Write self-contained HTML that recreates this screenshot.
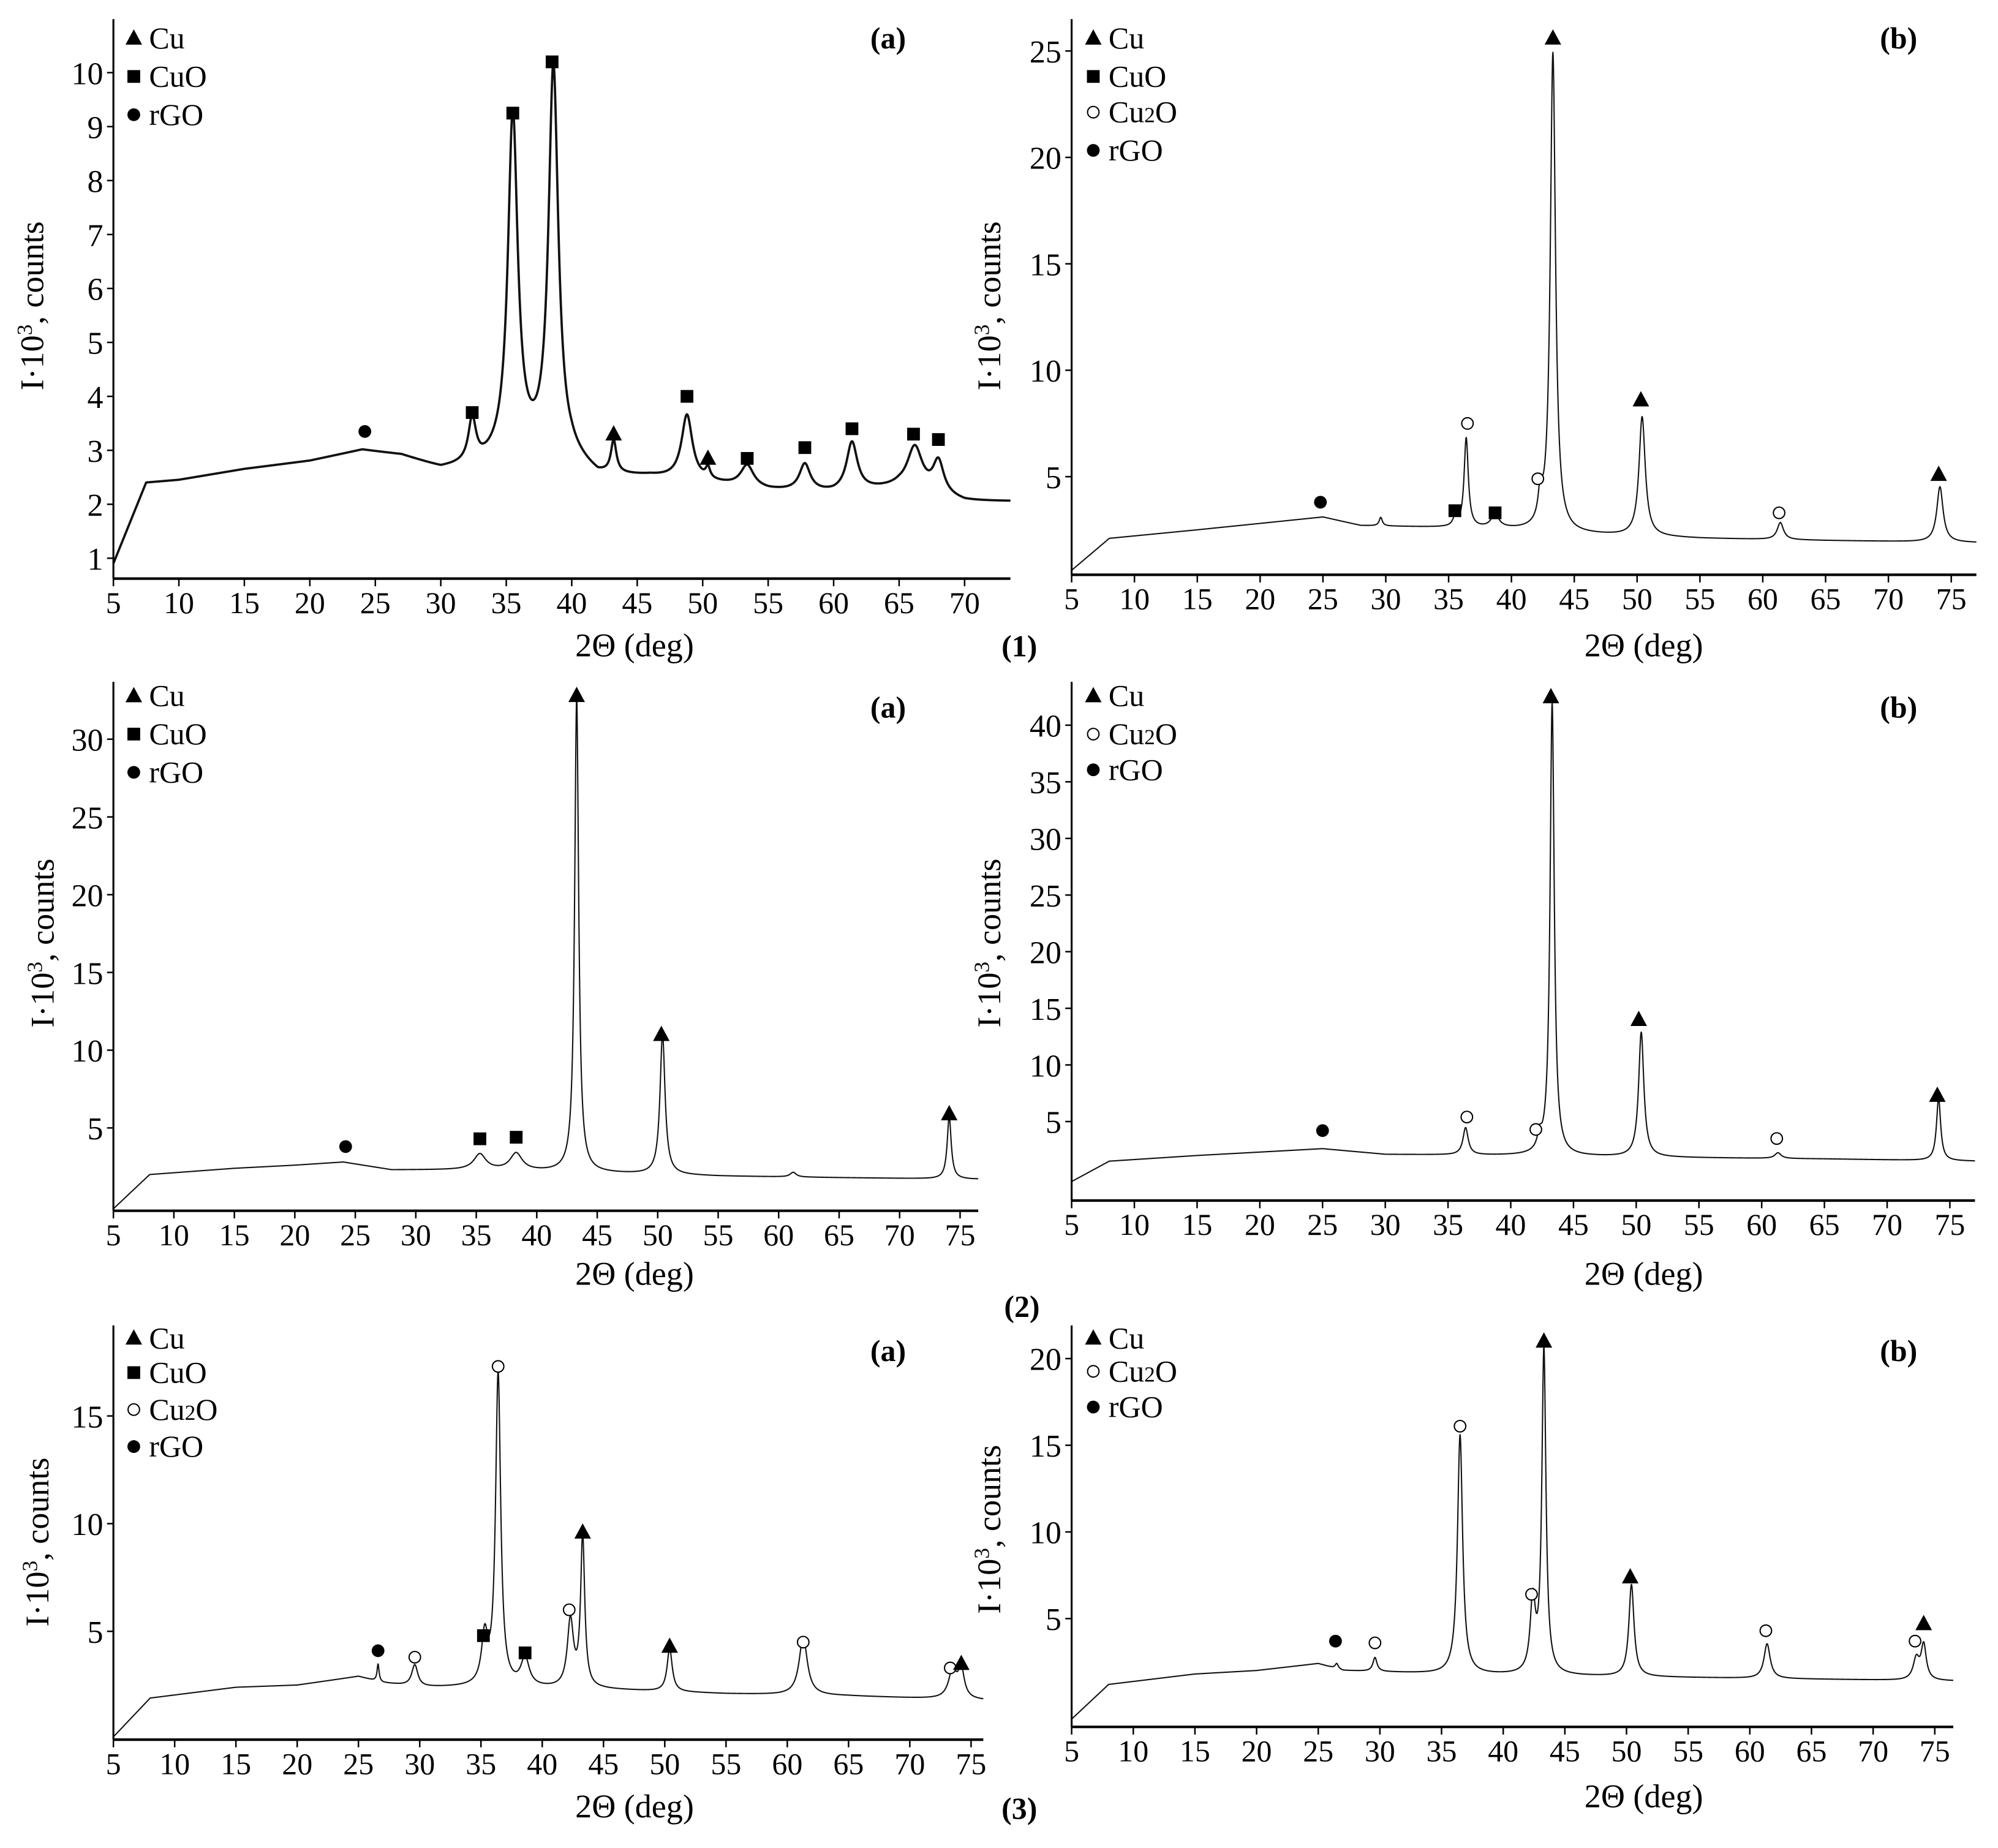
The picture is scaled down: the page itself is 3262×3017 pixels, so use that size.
<!DOCTYPE html>
<html><head><meta charset="utf-8"><style>
html,body{margin:0;padding:0;background:#fff;}
svg{display:block;font-family:"Liberation Serif",serif;}
</style></head><body>
<svg id="fig" xmlns="http://www.w3.org/2000/svg" width="3262" height="3017" viewBox="0 0 1568 1450" preserveAspectRatio="none"></svg>
<script>
// ---------- data arrays ----------
const xTicksA = [5,10,15,20,25,30,35,40,45,50,55,60,65,70];
const xTicksB = [5,10,15,20,25,30,35,40,45,50,55,60,65,70,75];
const p1aYTicks = [1,2,3,4,5,6,7,8,9,10];
const p1bYTicks = [5,10,15,20,25];
const p2aYTicks = [5,10,15,20,25,30];
const p2bYTicks = [5,10,15,20,25,30,35,40];
const p3aYTicks = [5,10,15];
const p3bYTicks = [5,10,15,20];

const p1aBase = [[5,0.9],[7.5,2.4],[10,2.45],[15,2.65],[20,2.8],[24,3.0],[27,2.9],[30,2.65],[33,2.7],[36,2.9],[40,2.8],[42,2.5],[46,2.5],[50,2.4],[55,2.25],[60,2.2],[65,2.3],[70,2.05],[73.5,2.05]];
const p1aPeaks = [[32.4,0.8,0.35],[35.5,6.3,0.45],[38.6,7.2,0.45],[43.2,0.6,0.25],[48.8,1.2,0.5],[50.4,0.2,0.2],[53.4,0.4,0.6],[57.8,0.5,0.5],[61.4,0.9,0.5],[66.2,0.8,0.7],[68,0.6,0.5]];
const p1aMarks = [["c",24.2,3.35],["s",32.4,3.7],["s",35.5,9.25],["s",38.5,10.2],["t",43.2,3.3],["s",48.8,4.0],["t",50.4,2.85],["s",53.4,2.85],["s",57.8,3.05],["s",61.4,3.4],["s",66.1,3.3],["s",68,3.2]];

const p1bBase = [[5,0.6],[8,2.1],[15,2.5],[20,2.8],[25,3.1],[28,2.7],[35,2.6],[40,2.5],[45,2.3],[55,2.1],[65,2.0],[77,1.9]];
const p1bPeaks = [[29.6,0.4,0.15],[35.5,0.4,0.2],[36.4,4.2,0.2],[38.7,0.6,0.4],[42.3,1.3,0.2],[43.3,22.5,0.25],[50.4,5.6,0.3],[61.4,0.8,0.3],[74.1,2.6,0.3]];
const p1bMarks = [["c",24.8,3.8],["s",35.5,3.4],["s",38.7,3.3],["o",36.5,7.5],["o",42.1,4.9],["t",43.3,25.6],["t",50.3,8.6],["o",61.3,3.3],["t",74,5.1]];

const p2aBase = [[5,-0.2],[8,2.0],[15,2.4],[20,2.6],[24,2.8],[28,2.3],[35,2.3],[45,2.1],[55,1.9],[65,1.8],[76,1.7]];
const p2aPeaks = [[35.3,1.0,0.6],[38.3,1.1,0.6],[43.3,30.5,0.2],[50.4,9,0.25],[61.2,0.3,0.3],[74.1,4,0.2]];
const p2aMarks = [["c",24.2,3.8],["s",35.3,4.3],["s",38.3,4.4],["t",43.3,32.8],["t",50.3,11],["t",74.1,5.9]];

const p2bBase = [[5,-0.3],[8,1.5],[15,2.0],[25,2.6],[30,2.1],[40,2.0],[55,1.8],[65,1.7],[77,1.5]];
const p2bPeaks = [[36.4,2.4,0.25],[42.3,1.2,0.2],[43.3,40,0.2],[50.4,11,0.25],[61.3,0.5,0.3],[74.1,5.5,0.2]];
const p2bMarks = [["c",25,4.2],["o",36.5,5.4],["o",42,4.3],["t",43.2,42.5],["t",50.2,14],["o",61.2,3.5],["t",74,7.3]];

const p3aBase = [[5,0.1],[8,1.9],[15,2.4],[20,2.5],[25,2.9],[27,2.6],[30,2.4],[35,2.4],[45,2.3],[55,2.1],[65,2.0],[76,1.8]];
const p3aPeaks = [[26.6,0.8,0.1],[29.6,1.0,0.3],[35.3,2.2,0.3],[36.4,14.5,0.25],[38.6,1.3,0.4],[42.3,3.1,0.3],[43.3,7.0,0.2],[50.4,2.0,0.25],[61.3,2.7,0.4],[73.5,1.3,0.4],[74.2,1.3,0.3]];
const p3aMarks = [["c",26.6,4.1],["o",29.6,3.8],["s",35.2,4.8],["o",36.4,17.3],["s",38.6,4.0],["o",42.2,6.0],["t",43.3,9.6],["t",50.4,4.3],["o",61.3,4.5],["o",73.3,3.3],["t",74.2,3.5]];

const p3bBase = [[5,-0.8],[8,1.2],[15,1.8],[20,2.0],[25,2.4],[27,2.0],[35,1.8],[45,1.7],[55,1.6],[76.5,1.4]];
const p3bPeaks = [[26.5,0.3,0.15],[29.6,0.8,0.2],[36.5,13.8,0.25],[42.4,4.1,0.25],[43.3,18.7,0.2],[50.4,5.3,0.25],[61.4,2.0,0.3],[73.5,1.2,0.3],[74.1,2.0,0.25]];
const p3bMarks = [["c",26.4,3.7],["o",29.6,3.6],["o",36.5,16.1],["o",42.3,6.4],["t",43.3,21],["t",50.3,7.4],["o",61.3,4.3],["o",73.4,3.7],["t",74.1,4.7]];

// ---------- layout ----------
const panels = [
 {id:"1a",px5:89,px70:757,xEnd:73.5,yBot:454,yTop:15,v1:1,py1:438,v2:10,py2:57,yt:p1aYTicks,xt:xTicksA,base:p1aBase,peaks:p1aPeaks,marks:p1aMarks,lab:"(a)",labX:697,labY:38,legX:105,legY:[30,60,90],leg:["t:Cu","s:CuO","c:rGO"],ylX:34,ylY:240,xlY:515,sw:1.8},
 {id:"1b",px5:841,px70:1482,xEnd:77,yBot:451,yTop:15,v1:5,py1:374,v2:25,py2:40,yt:p1bYTicks,xt:xTicksB,base:p1bBase,peaks:p1bPeaks,marks:p1bMarks,lab:"(b)",labX:1490,labY:38,legX:858,legY:[30,60,88,118],leg:["t:Cu","s:CuO","o:Cu2O","c:rGO"],ylX:785,ylY:240,xlY:515,sw:1},
 {id:"2a",px5:89,px70:706,xEnd:76.5,yBot:950,yTop:535,v1:5,py1:885,v2:30,py2:580,yt:p2aYTicks,xt:xTicksB,base:p2aBase,peaks:p2aPeaks,marks:p2aMarks,lab:"(a)",labX:697,labY:563,legX:105,legY:[546,576,606],leg:["t:Cu","s:CuO","c:rGO"],ylX:42,ylY:740,xlY:1008,sw:1},
 {id:"2b",px5:841,px70:1481,xEnd:77,yBot:942,yTop:535,v1:5,py1:880,v2:40,py2:569,yt:p2bYTicks,xt:xTicksB,base:p2bBase,peaks:p2bPeaks,marks:p2bMarks,lab:"(b)",labX:1490,labY:563,legX:858,legY:[546,576,604],leg:["t:Cu","o:Cu2O","c:rGO"],ylX:785,ylY:740,xlY:1008,sw:1},
 {id:"3a",px5:89,px70:714,xEnd:76,yBot:1365,yTop:1040,v1:5,py1:1280,v2:15,py2:1111,yt:p3aYTicks,xt:xTicksB,base:p3aBase,peaks:p3aPeaks,marks:p3aMarks,lab:"(a)",labX:697,labY:1068,legX:105,legY:[1050,1077,1106,1135],leg:["t:Cu","s:CuO","o:Cu2O","c:rGO"],ylX:38,ylY:1210,xlY:1426,sw:1},
 {id:"3b",px5:841,px70:1470,xEnd:76.5,yBot:1355,yTop:1040,v1:5,py1:1270,v2:20,py2:1066,yt:p3bYTicks,xt:xTicksB,base:p3bBase,peaks:p3bPeaks,marks:p3bMarks,lab:"(b)",labX:1490,labY:1068,legX:858,legY:[1050,1076,1104],leg:["t:Cu","o:Cu2O","c:rGO"],ylX:785,ylY:1200,xlY:1418,sw:1}
];
const NS="http://www.w3.org/2000/svg";
const svg=document.getElementById("fig");
function mk(tag,attrs,parent){const e=document.createElementNS(NS,tag);for(const k in attrs)e.setAttribute(k,attrs[k]);(parent||svg).appendChild(e);return e;}
function marker(type,cx,cy,g){
 let e;
 if(type==="t") e=mk("polygon",{points:`${cx},${cy-7} ${cx-6.5},${cy+5} ${cx+6.5},${cy+5}`,fill:"#000"},g);
 else if(type==="s") e=mk("rect",{x:cx-5,y:cy-5,width:10,height:10,fill:"#000"},g);
 else if(type==="c") e=mk("circle",{cx:cx,cy:cy,r:5,fill:"#000"},g);
 else e=mk("circle",{cx:cx,cy:cy,r:4.5,fill:"#fff",stroke:"#000","stroke-width":1},g);
 return e;
}
function baseAt(b,x){for(let i=0;i<b.length-1;i++){if(x<=b[i+1][0]){const t=(x-b[i][0])/(b[i+1][0]-b[i][0]);return b[i][1]+t*(b[i+1][1]-b[i][1]);}}return b[b.length-1][1];}
panels.forEach(p=>{
 const g=mk("g",{});
 
 
 const xs=d=>p.px5+(d-5)*(p.px70-p.px5)/65;
 const ys=v=>p.py1+(v-p.v1)*(p.py2-p.py1)/(p.v2-p.v1);
 const x0=xs(5), x1=xs(p.xEnd);
 let d="";
 for(let t=5;t<=p.xEnd+1e-9;t+=0.02){
  let v=baseAt(p.base,t);
  p.peaks.forEach(k=>{const u=(t-k[0])/k[2];v+=k[1]/(1+u*u);});
  d+=(d?"L":"M")+xs(t).toFixed(2)+","+Math.min(ys(v),p.yBot).toFixed(2);
 }
 const c=mk("path",{d:d,fill:"none",stroke:"#111","stroke-width":p.sw,"stroke-linejoin":"round"},g);
 
 
 const ya=mk("line",{x1:x0,y1:p.yTop,x2:x0,y2:p.yBot,stroke:"#000","stroke-width":1.5},g);
 
 
 const xa=mk("line",{x1:x0,y1:p.yBot,x2:x1,y2:p.yBot,stroke:"#000","stroke-width":2},g);
 
 
 p.yt.forEach(v=>{
  const y=ys(v);
  mk("line",{x1:x0-5,y1:y,x2:x0,y2:y,stroke:"#000","stroke-width":1.2},g);
  const t=mk("text",{x:x0-8,y:y+9,"text-anchor":"end","font-size":25},g);
  t.textContent=v;
  
  
 });
 p.xt.forEach(v=>{
  if(v>p.xEnd)return;
  const x=xs(v);
  mk("line",{x1:x,y1:p.yBot,x2:x,y2:p.yBot+6,stroke:"#000","stroke-width":1.2},g);
  const t=mk("text",{x:x,y:p.yBot+27,"text-anchor":"middle","font-size":24},g);
  t.textContent=v;
  
  
 });
 const xl=mk("text",{x:(p.px5<500?498:1290),y:p.xlY,"text-anchor":"middle","font-size":26},g);
 xl.textContent="2Θ (deg)";
 
 
 const yl=mk("text",{x:0,y:0,"text-anchor":"middle","font-size":26,transform:`translate(${p.ylX},${p.ylY}) rotate(-90)`},g);
 yl.innerHTML='I·10<tspan dy="-9" font-size="17">3</tspan><tspan dy="9">, counts</tspan>';
 
 
 const lb=mk("text",{x:p.labX,y:p.labY,"text-anchor":"middle","font-size":24,"font-weight":"bold"},g);
 lb.textContent=p.lab;
 
 
 p.leg.forEach((s,i)=>{
  const [tp,name]=s.split(":");
  const y=p.legY[i];
  marker(tp,p.legX,y,g);
  const t=mk("text",{x:p.legX+12,y:y+8,"font-size":24},g);
  if(name==="Cu2O") t.innerHTML='Cu<tspan font-size="17">2</tspan>O'; else t.textContent=name;
  
  
 });
 p.marks.forEach(m=>{
  const e=marker(m[0],xs(m[1]),ys(m[2]),g);
  
  
 });
});
[["(1)",800,515],["(2)",802,1033],["(3)",800,1427]].forEach(a=>{
 const t=mk("text",{x:a[1],y:a[2],"text-anchor":"middle","font-size":24,"font-weight":"bold"});
 t.textContent=a[0];
 
 
});
</script>
</body></html>
